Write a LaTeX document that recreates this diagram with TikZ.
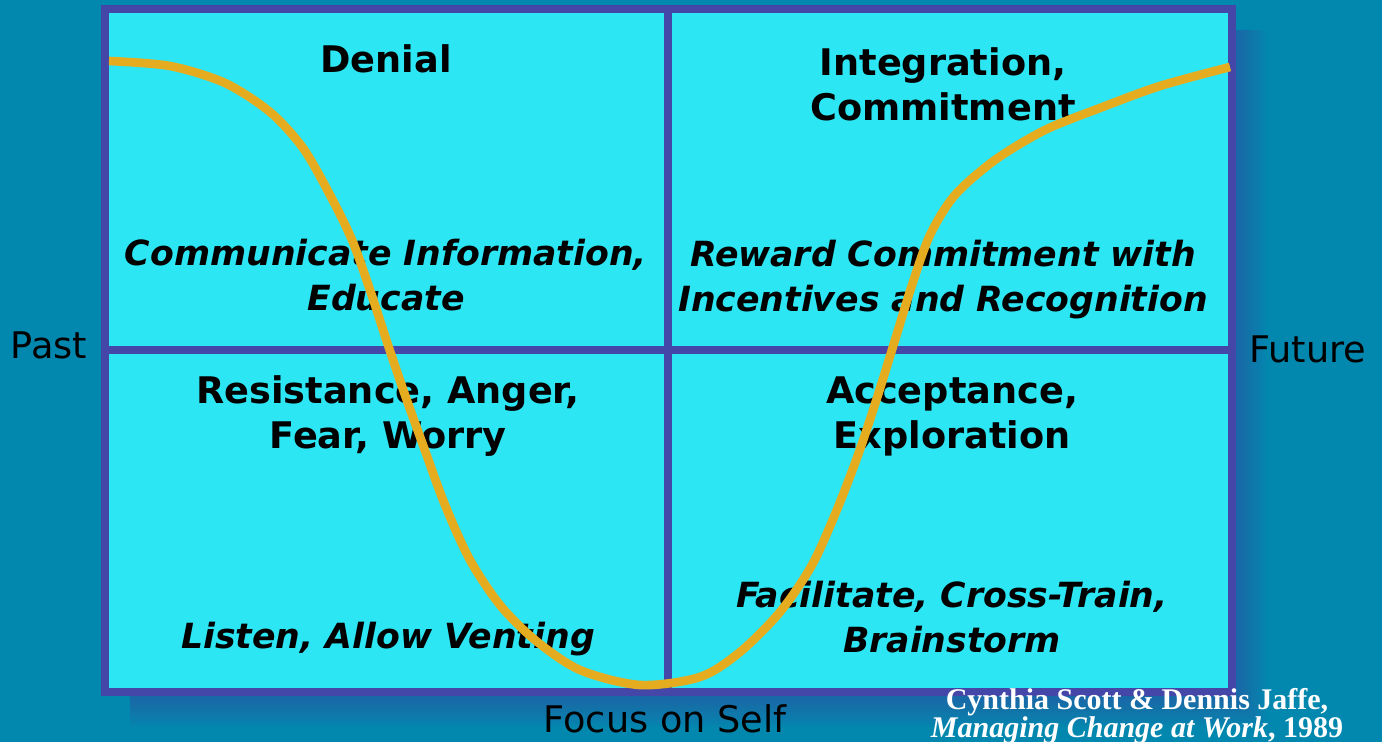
\documentclass[tikz,border=0pt]{standalone}
\usepackage{fontspec}
\setmainfont{DejaVu Sans}
\newfontfamily\citefont{Liberation Serif}

\definecolor{bgteal}{HTML}{0288AF}
\definecolor{panelcyan}{HTML}{2DE6F3}
\definecolor{gridblue}{HTML}{4446A8}
\definecolor{curvegold}{HTML}{E6AC20}

\begin{document}
\begin{tikzpicture}[
        x=0.75pt, y=-0.75pt,
        heading/.style={
            font=\bfseries\fontsize{27.5}{33.75}\selectfont,
            align=center, anchor=base, inner sep=0pt
        },
        action/.style={
            font=\bfseries\itshape\fontsize{26}{33.75}\selectfont,
            align=center, anchor=base, inner sep=0pt
        },
        axislabel/.style={
            font=\fontsize{27.5}{33}\selectfont,
            anchor=base, inner sep=0pt
        },
        source/.style={
            white, anchor=base, inner sep=0pt,
            font=\citefont\bfseries\fontsize{22.5}{18}\selectfont
        },
        curve/.style={curvegold, line width=6.5pt}
    ]

        % Background
        \useasboundingbox (0,0) rectangle (1382,742);
        \fill[bgteal] (0,0) rectangle (1382,742);

        % Soft shadow behind the panel
        \foreach \d in {3,6,...,30}
            \fill[gridblue, opacity=0.05] (130,30) rectangle (1236+\d,697+\d);

        % Panel with its four quadrants
        \draw[gridblue, line width=6pt, fill=panelcyan] (105,9) rectangle (1232,692);
        \draw[gridblue, line width=6pt] (668,9) -- (668,692);
        \draw[gridblue, line width=6pt] (105,350) -- (1232,350);

        % Quadrant headings (anchored on the last line)
        \node[heading] (denial) at (386,73) {Denial};
        \node[heading] (integration) at (943,120) {Integration,\\Commitment};
        \node[heading] (resistance) at (388,448) {Resistance, Anger,\\Fear, Worry};
        \node[heading] (acceptance) at (952,448) {Acceptance,\\Exploration};

        % What to do in each phase
        \node[action] (inform) at (386,310) {Communicate Information,\\Educate};
        \node[action] (reward) at (943,311) {Reward Commitment with\\Incentives and Recognition};
        \node[action] (listen) at (388,648) {Listen, Allow Venting};
        \node[action] (facilitate) at (952,652) {Facilitate, Cross-Train,\\Brainstorm};

        % Axis labels
        \node[axislabel] (past) at (49,358) {Past};
        \node[axislabel] (future) at (1308,362) {Future};
        \node[axislabel] (self) at (665,732) {Focus on Self};

        % Source
        \node[source] (authors) at (1137,709) {Cynthia Scott \& Dennis Jaffe,};
        \node[source] (book) at (1137,737) {\textit{Managing Change at Work}, 1989};

        % Change curve
        \draw[curve] plot[smooth, tension=0.5] coordinates {
            (109,61) (170,66) (225,83) (270,112) (303,148) (330,195)
            (352,240) (370,290) (388,345) (405,395) (423,445) (445,505)
            (470,560) (500,605) (535,640) (580,670) (640,685) (700,677)
            (740,652) (780,612) (812,565) (836,512) (858,455) (877,398)
            (895,340) (912,285) (930,235) (955,195) (995,160) (1045,130)
            (1100,108) (1160,86) (1230,67)};

    \end{tikzpicture}
\end{document}
